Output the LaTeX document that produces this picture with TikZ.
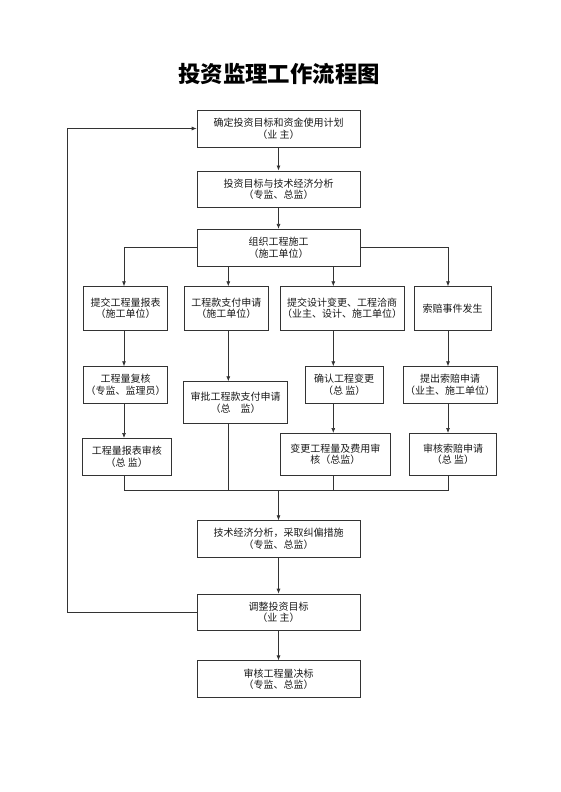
\documentclass[tikz,border=0pt]{standalone}
\usepackage{fontspec}
\setmainfont{Noto Sans CJK SC}
\usetikzlibrary{positioning, arrows.meta}

\tikzset{
  box/.style={draw=black!80, line width=0.7pt, align=center, inner sep=2pt,
    minimum height=36.7pt, font=\fontsize{10}{11.7}\selectfont, text=black!90},
  link/.style={draw=black!80, line width=0.7pt},
}

\begin{document}
\begin{tikzpicture}[x=1pt, y=-1pt, >={Latex[length=5pt,width=4pt]}, node distance=2cm]
    \useasboundingbox (0,0) rectangle (560,792);
    \node (title) at (279,74) {\fontsize{22.4}{24}\selectfont\bfseries 投资监理工作流程图};

    %main column
    \node (plan) [box, minimum width=163pt] at (278.5,128.5) {确定投资目标和资金使用计划\\（业 主）};
    \node (target) [box, minimum width=163pt, below=23.3pt of plan] {投资目标与技术经济分析\\（专监、总监）};
    \node (build) [box, minimum width=163pt, below=21pt of target] {组织工程施工\\（施工单位）};

    %branch columns
    \coordinate (xa) at (124,0);
    \coordinate (xb) at (228.3,0);
    \coordinate (xc) at (333.3,0);
    \coordinate (xd) at (448,0);
    \coordinate (fb) at (67.3,0);

    \node (report) [box, minimum width=84.4pt, minimum height=43.3pt] at (125.5,308.3) {提交工程量报表\\（施工单位）};
    \node (payreq) [box, minimum width=84.7pt, minimum height=43.3pt] at (226.3,308.3) {工程款支付申请\\（施工单位）};
    \node (change) [box, minimum width=122.6pt, minimum height=43.3pt] at (342,308.3) {提交设计变更、工程洽商\\（业主、设计、施工单位）};
    \node (claim) [box, minimum width=76.7pt, minimum height=43.3pt] at (452.7,308.3) {索赔事件发生};

    \node (recheck) [box, minimum width=84.4pt] at (125.5,385) {工程量复核\\（专监、监理员）};
    \node (payok) [box, minimum width=104.4pt, minimum height=41.6pt] at (235.5,402.5) {审批工程款支付申请\\（总　监）};
    \node (confirm) [box, minimum width=78.3pt] at (344.2,385) {确认工程变更\\（总 监）};
    \node (claimreq) [box, minimum width=93.4pt] at (450,385) {提出索赔申请\\（业主、施工单位）};

    \node (reportok) [box, minimum width=88.3pt] at (126.8,456.7) {工程量报表审核\\（总 监）};
    \node (costok) [box, minimum width=109.3pt, minimum height=41.7pt] at (335.3,454.2) {变更工程量及费用审\\核（总监）};
    \node (claimok) [box, minimum width=87.4pt, minimum height=41.7pt] at (453,454.2) {审核索赔申请\\（总 监）};

    \coordinate (merge) at (278.5,490.7);

    \node (analysis) [box, minimum width=163pt] at (278.5,539) {技术经济分析，采取纠偏措施\\（专监、总监）};
    \node (adjust) [box, minimum width=163pt, below=36pt of analysis] {调整投资目标\\（业 主）};
    \node (final) [box, minimum width=163pt, below=29.3pt of adjust] {审核工程量决标\\（专监、总监）};

    \draw[link, ->] (plan) -- (target);
    \draw[link, ->] (target) -- (build);
    \draw[link, ->] (build.west) -| (xa |- report.north);
    \draw[link, ->] (build.east) -| (xd |- claim.north);
    \draw[link, ->] (xb |- build.south) -- (xb |- payreq.north);
    \draw[link, ->] (xc |- build.south) -- (xc |- change.north);

    \draw[link, ->] (xa |- report.south) -- (xa |- recheck.north);
    \draw[link, ->] (xa |- recheck.south) -- (xa |- reportok.north);
    \draw[link, ->] (xb |- payreq.south) -- (xb |- payok.north);
    \draw[link, ->] (xc |- change.south) -- (xc |- confirm.north);
    \draw[link, ->] (xc |- confirm.south) -- (xc |- costok.north);
    \draw[link, ->] (xd |- claim.south) -- (xd |- claimreq.north);
    \draw[link, ->] (xd |- claimreq.south) -- (xd |- claimok.north);

    %merge
    \draw[link] (xa |- reportok.south) |- (merge);
    \draw[link] (xd |- claimok.south) |- (merge);
    \draw[link] (xb |- payok.south) -- (xb |- merge);
    \draw[link] (xc |- costok.south) -- (xc |- merge);
    \draw[link, ->] (merge) -- (analysis);

    \draw[link, ->] (analysis) -- (adjust);
    \draw[link, ->] (adjust) -- (final);
    %feedback
    \draw[link, ->] (adjust.west) -- (fb |- adjust.west) |- (plan.west);
\end{tikzpicture}
\end{document}
